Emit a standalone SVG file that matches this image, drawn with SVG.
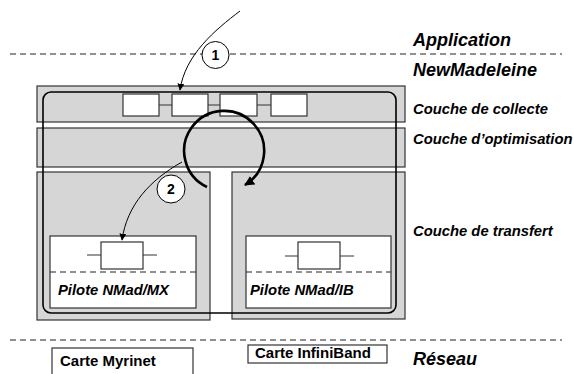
<svg xmlns="http://www.w3.org/2000/svg" width="574" height="374" viewBox="0 0 574 374">
<defs>
<marker id="ah" viewBox="0 0 10 10" refX="9" refY="5" markerWidth="7" markerHeight="7" markerUnits="userSpaceOnUse" orient="auto"><path d="M0,0 L10,5 L0,10 z" fill="#000"/></marker>
<marker id="ahb" viewBox="0 0 10 10" refX="9" refY="5" markerWidth="10" markerHeight="10" markerUnits="userSpaceOnUse" orient="auto"><path d="M0,0 L10,5 L0,10 z" fill="#000"/></marker>
<style>
.layer{fill:#d6d6d6;stroke:#333;stroke-width:1.2}
.wbox{fill:#fff;stroke:#333;stroke-width:1.2}
.dash{stroke:#222;stroke-width:1;stroke-dasharray:6,4;fill:none}
.thin{stroke:#333;stroke-width:1;fill:none}
.lbl{font-family:"Liberation Sans",Arial,sans-serif;font-weight:bold;font-style:italic;font-size:14.8px;fill:#000}
.big{font-family:"Liberation Sans",Arial,sans-serif;font-weight:bold;font-style:italic;font-size:18px;fill:#000}
.card{font-family:"Liberation Sans",Arial,sans-serif;font-weight:bold;font-size:15px;fill:#000}
.num{font-family:"Liberation Sans",Arial,sans-serif;font-weight:bold;font-size:14px;fill:#000;text-anchor:middle}
</style>
</defs>
<line class="dash" x1="10" y1="54" x2="562" y2="54"/>
<line class="dash" x1="10" y1="340" x2="562" y2="340"/>
<text class="big" x="413" y="46">Application</text>
<text class="big" x="413" y="76">NewMadeleine</text>
<text class="lbl" x="413" y="114">Couche de collecte</text>
<text class="lbl" x="413" y="144">Couche d’optimisation</text>
<text class="lbl" x="413" y="236">Couche de transfert</text>
<text class="big" x="413" y="365">Réseau</text>
<g id="collecte">
<rect class="layer" x="37" y="86" width="368" height="36"/>
<line class="thin" x1="159" y1="105" x2="172" y2="105"/>
<line class="thin" x1="208" y1="105" x2="220" y2="105"/>
<line class="thin" x1="257" y1="105" x2="271" y2="105"/>
<rect class="wbox" x="123" y="94" width="36" height="22"/>
<rect class="wbox" x="172" y="94" width="36" height="22"/>
<rect class="wbox" x="220" y="94" width="37" height="22"/>
<rect class="wbox" x="271" y="94" width="36" height="22"/>
</g>
<g id="optimisation">
<rect class="layer" x="37" y="128" width="368" height="39"/>
</g>
<g id="transfert-mx">
<rect class="layer" x="37" y="172" width="173" height="148"/>
<rect class="wbox" x="50" y="236" width="146" height="72"/>
<line class="dash" x1="50" y1="272" x2="196" y2="272" stroke-dasharray="4,3"/>
<line class="thin" x1="87" y1="255" x2="157" y2="255"/>
<rect class="wbox" x="101" y="242" width="42" height="27"/>
<text class="lbl" x="58" y="295">Pilote NMad/MX</text>
</g>
<g id="transfert-ib">
<rect class="layer" x="232" y="172" width="173" height="147"/>
<rect class="wbox" x="246" y="236" width="145" height="72"/>
<line class="dash" x1="246" y1="272" x2="391" y2="272" stroke-dasharray="4,3"/>
<line class="thin" x1="285" y1="256" x2="354" y2="256"/>
<rect class="wbox" x="298" y="242" width="42" height="27"/>
<text class="lbl" x="250" y="295">Pilote NMad/IB</text>
</g>
<g id="newmadeleine">
<rect x="43" y="92" width="353" height="221" rx="8" fill="none" stroke="#000" stroke-width="1.6"/>
</g>
<g id="carte-myrinet">
<rect class="wbox" x="52" y="348" width="141" height="30"/>
<text class="card" x="60" y="366">Carte Myrinet</text>
</g>
<g id="carte-infiniband">
<rect class="wbox" x="248" y="345" width="139" height="18"/>
<text class="card" x="255" y="358">Carte InfiniBand</text>
</g>
<g id="connectors">
<path d="M240,11 C215,30 185,55 180,90" fill="none" stroke="#000" stroke-width="1" marker-end="url(#ah)"/>
<path d="M182,162 C150,180 127,205 122,240" fill="none" stroke="#000" stroke-width="1" marker-end="url(#ah)"/>
<path d="M207,187 A40,40 0 1 1 245,185" fill="none" stroke="#000" stroke-width="2.6" marker-end="url(#ahb)"/>
</g>
<g id="step1">
<circle cx="215.5" cy="55" r="13.5" fill="#fff" stroke="#000" stroke-width="1"/>
<text class="num" x="215.5" y="60">1</text>
</g>
<g id="step2">
<circle cx="171" cy="189" r="14" fill="#fff" stroke="#000" stroke-width="1"/>
<text class="num" x="171" y="194">2</text>
</g>
</svg>
